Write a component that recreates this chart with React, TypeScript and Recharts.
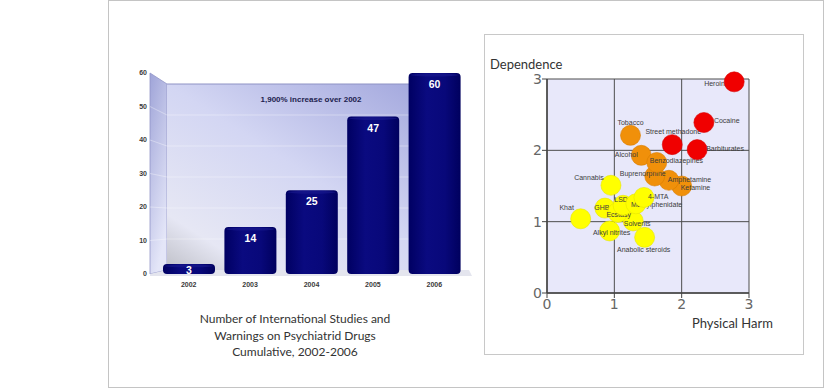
import {
  BarChart, Bar, XAxis, YAxis, ReferenceArea, LabelList,
  ScatterChart, Scatter, CartesianGrid,
} from "recharts";

// left chart: cumulative studies per year
const years = ["2002", "2003", "2004", "2005", "2006"];
const studyCounts = [3, 14, 25, 47, 60];
const countTicks = [0, 10, 20, 30, 40, 50, 60];

// right chart: physical harm vs dependence
const highRisk = [
  { name: "Street methadone", harm: 1.86, dep: 2.08 },
  { name: "Barbiturates", harm: 2.23, dep: 2.01 },
  { name: "Cocaine", harm: 2.33, dep: 2.39 },
  { name: "Heroin", harm: 2.78, dep: 2.96 },
];
const midRisk = [
  { name: "Tobacco", harm: 1.24, dep: 2.21 },
  { name: "Alcohol", harm: 1.4, dep: 1.93 },
  { name: "Ketamine", harm: 2.0, dep: 1.5 },
  { name: "Amphetamine", harm: 1.81, dep: 1.58 },
  { name: "Buprenorphine", harm: 1.6, dep: 1.64 },
  { name: "Benzodiazepines", harm: 1.63, dep: 1.83 },
];
const lowRisk = [
  { name: "Khat", harm: 0.5, dep: 1.04 },
  { name: "Cannabis", harm: 0.95, dep: 1.51 },
  { name: "Anabolic steroids", harm: 1.45, dep: 0.78 },
  { name: "Alkyl nitrites", harm: 0.93, dep: 0.87 },
  { name: "Solvents", harm: 1.28, dep: 1.01 },
  { name: "GHB", harm: 0.86, dep: 1.19 },
  { name: "Ecstasy", harm: 1.05, dep: 1.13 },
  { name: "LSD", harm: 1.13, dep: 1.23 },
  { name: "Methylphenidate", harm: 1.32, dep: 1.25 },
  { name: "4-MTA", harm: 1.44, dep: 1.34 },
];
const scaleTicks = [0, 1, 2, 3];

const barData = years.map((year, i) => ({ year, count: studyCounts[i] }));

// where each drug's label sits relative to its dot: dx, dy, anchor, under the dot
const labelSpot: Record<string, [number, number, string, boolean?]> = {
  Heroin: [-30, 2, "start", true],
  Cocaine: [10, -2, "start"],
  "Street methadone": [1, -13, "middle"],
  Barbiturates: [9, -1, "start"],
  Tobacco: [0, -13, "middle"],
  Alcohol: [-15, -1, "middle"],
  Benzodiazepines: [-7, -2, "start"],
  Buprenorphine: [-12, -3, "middle"],
  Amphetamine: [-1, -1, "start"],
  Ketamine: [-1, 1, "start"],
  Cannabis: [-22, -8, "middle"],
  LSD: [-2, -6, "middle"],
  "4-MTA": [4, -1, "start"],
  Methylphenidate: [-5, 1, "start"],
  GHB: [-3, -1, "middle"],
  Ecstasy: [1, 2, "middle"],
  Solvents: [4, 3, "middle"],
  Khat: [-14, -11, "middle"],
  "Alkyl nitrites": [2, 2, "middle"],
  "Anabolic steroids": [-1, 12, "middle"],
};

const sans = "'Liberation Sans', Arial, sans-serif";
const text = "Lato, 'Open Sans', sans-serif";

function Walls(props: any) {
  const { x, y, width: w, height: h } = props;
  if (x == null) return null;
  const fx = x - 8;
  const bx = x + 9, by = y + 11, bb = y + h - 4, br = x + w - 8;
  const lines = [1, 2, 3, 4, 5].map(k => {
    const f = k / 6;
    const fy = y + h - f * h;
    const yy = bb - f * (bb - by);
    return (
      <polyline key={k} points={`${fx},${fy} ${bx},${yy} ${br},${yy}`}
        fill="none" stroke="#ffffff" strokeOpacity={0.35} />
    );
  });
  return (
    <g>
      <defs>
        <linearGradient id="backWall" x1="0" y1="1" x2="1" y2="0">
          <stop offset="0" stopColor="#bfc0c8" />
          <stop offset="0.15" stopColor="#e6e7f4" />
          <stop offset="0.5" stopColor="#d3d6f3" />
          <stop offset="1" stopColor="#9ca1da" />
        </linearGradient>
        <linearGradient id="sideWall" x1="0" y1="0" x2="0.4" y2="1">
          <stop offset="0" stopColor="#9fa4d8" />
          <stop offset="1" stopColor="#e4e6f8" />
        </linearGradient>
        <linearGradient id="barFill" x1="0" y1="0" x2="1" y2="0">
          <stop offset="0" stopColor="#000062" />
          <stop offset="0.35" stopColor="#0a0a80" />
          <stop offset="0.7" stopColor="#08087a" />
          <stop offset="1" stopColor="#00005e" />
        </linearGradient>
      </defs>
      <polygon points={`${fx},${y} ${bx},${by} ${bx},${bb} ${fx},${y + h}`}
        fill="url(#sideWall)" stroke="#9296c8" strokeWidth={0.8} />
      <rect x={bx} y={by} width={br - bx} height={bb - by} fill="url(#backWall)" />
      <line x1={bx} y1={by} x2={br} y2={by} stroke="#8e92c4" />
      {lines}
      <polygon points={`${fx},${y + h} ${bx},${bb} ${x + w + 4},${bb} ${x + w + 7},${y + h + 2} ${fx},${y + h + 2}`}
        fill="#e4e5ee" />
    </g>
  );
}

function Cylinder(props: any) {
  const { x, y, width, height } = props;
  if (!height) return null;
  return (
    <g>
      <rect x={x} y={y} width={width} height={height} rx={4} ry={4} fill="url(#barFill)" />
      <ellipse cx={x + width / 2} cy={y + 2} rx={width / 2 - 2} ry={1.5} fill="#1a1a90" opacity={0.6} />
    </g>
  );
}

function CountLabel(props: any) {
  const { x, y, width, height, value } = props;
  const cy = height < 30 ? y + height / 2 + 1 : y + 11;
  return (
    <text x={x + width / 2} y={cy} textAnchor="middle" dominantBaseline="central"
      fill="#fff" fontWeight="bold" fontSize={10.5} fontFamily={sans}>{value}</text>
  );
}

function DrugDot(props: any) {
  const { cx, cy, payload, color, edge } = props;
  if (cx == null) return null;
  const [dx, dy, anchor, under] = labelSpot[payload.name] || [0, 0, "middle"];
  const label = (
    <text key="t" x={cx + dx} y={cy + dy} textAnchor={anchor} dominantBaseline="central"
      fontSize={7} fontFamily={sans} fill="#3c3c3c">{payload.name}</text>
  );
  const dot = <circle key="c" cx={cx} cy={cy} r={10} fill={color} stroke={edge} strokeWidth={0.6} />;
  return <g>{under ? [label, dot] : [dot, label]}</g>;
}

export default function App() {
  return (
    <div style={{ position: "absolute", left: 0, top: 0, width: 832, height: 388, background: "#fff", overflow: "hidden" }}>
      <div style={{ position: "absolute", left: 108, top: 0, width: 716, height: 388, border: "1px solid #c4c4c4", boxSizing: "border-box" }} />
      <div style={{ position: "absolute", left: 484, top: 34, width: 320, height: 321, border: "1px solid #c8c8c8", boxSizing: "border-box" }} />

      <div style={{ position: "absolute", left: 110, top: 50 }}>
        <BarChart width={370} height={250} data={barData}
          margin={{ top: 23, right: 15, bottom: 6, left: 8 }}>
          <ReferenceArea y1={0} y2={60} ifOverflow="visible" shape={<Walls />} />
          <XAxis dataKey="year" axisLine={false} tickLine={false} height={20}
            tick={{ fontSize: 7, fontWeight: "bold", fill: "#3a3a3a", fontFamily: sans }} />
          <YAxis domain={[0, 60]} ticks={countTicks} width={40} axisLine={false} tickLine={false}
            tickMargin={5} tick={{ fontSize: 7, fontWeight: "bold", fill: "#3a3a3a", fontFamily: sans }} />
          <Bar dataKey="count" barSize={52} shape={<Cylinder />} isAnimationActive={false}>
            <LabelList dataKey="count" content={<CountLabel />} />
          </Bar>
        </BarChart>
      </div>
      <div style={{ position: "absolute", left: 231, top: 94, width: 160, textAlign: "center", fontFamily: sans, fontWeight: "bold", fontSize: 8, lineHeight: "12px", color: "#1d1d4e" }}>
        1,900% increase over 2002
      </div>
      <div style={{ position: "absolute", left: 110, top: 311, width: 370, textAlign: "center", fontFamily: text, fontSize: 12, lineHeight: "16.5px", color: "#333" }}>
        Number of International Studies and<br />
        Warnings on Psychiatrid Drugs<br />
        Cumulative, 2002-2006
      </div>

      <div style={{ position: "absolute", left: 485, top: 35 }}>
        <ScatterChart width={318} height={319} margin={{ top: 44, right: 54, bottom: 31, left: 32 }}>
          <CartesianGrid fill="#e8e8fa" fillOpacity={1} stroke="#4d4d4d" />
          <XAxis type="number" dataKey="harm" domain={[0, 3]} ticks={scaleTicks} height={30}
            axisLine={{ stroke: "#444", strokeWidth: 1.5 }} tickLine={{ stroke: "#444" }} tickSize={5} tickMargin={1}
            tick={{ fontSize: 14, fill: "#666", fontFamily: "'DejaVu Sans', sans-serif" }} />
          <YAxis type="number" dataKey="dep" domain={[0, 3]} ticks={scaleTicks} width={30}
            axisLine={{ stroke: "#444", strokeWidth: 1.5 }} tickLine={{ stroke: "#444" }} tickSize={5} tickMargin={0}
            tick={{ fontSize: 14, fill: "#666", fontFamily: "'DejaVu Sans', sans-serif" }} />
          <Scatter data={lowRisk} isAnimationActive={false}
            shape={(p: any) => <DrugDot {...p} color="#ffff00" edge="#e6e600" />} />
          <Scatter data={midRisk} isAnimationActive={false}
            shape={(p: any) => <DrugDot {...p} color="#f0900a" edge="#d87c00" />} />
          <Scatter data={highRisk} isAnimationActive={false}
            shape={(p: any) => <DrugDot {...p} color="#f00000" edge="#d80000" />} />
        </ScatterChart>
      </div>
      <div style={{ position: "absolute", left: 490, top: 55, fontFamily: text, fontSize: 13, lineHeight: "18px", color: "#333" }}>Dependence</div>
      <div style={{ position: "absolute", left: 692, top: 314, fontFamily: text, fontSize: 13, lineHeight: "18px", color: "#333" }}>Physical Harm</div>
    </div>
  );
}
